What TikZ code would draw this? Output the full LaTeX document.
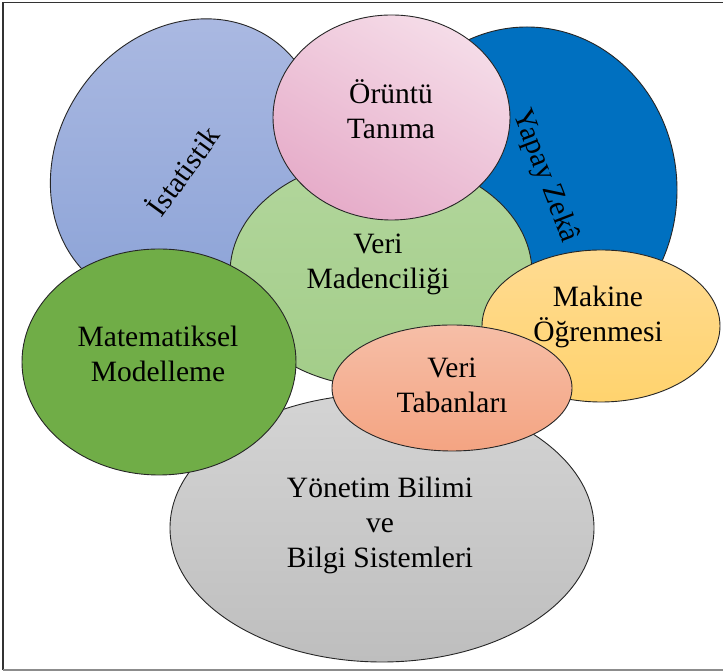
\documentclass[tikz,border=0pt]{standalone}
\usepackage{fontspec}
\setmainfont{Liberation Serif}
\usetikzlibrary{shapes.geometric}
\begin{document}
\begin{tikzpicture}[x=1pt,y=1pt,
  blob/.style={ellipse, draw=black!85, line width=0.9pt, inner sep=0pt, outer sep=0pt},
  lbl/.style={align=center, inner sep=0pt, font=\fontsize{29.5}{35}\selectfont, text=black}]
\useasboundingbox (0,0) rectangle (723,671);
\fill[white] (0,0) rectangle (723,671);
% frame
\coordinate (ftl) at (3,668.5);
\coordinate (fbl) at (3,1);
\coordinate (ftr) at (723,668.5);
\coordinate (fbr) at (723,1);
\draw[black!80, line width=1.2pt] (ftr) -- (ftl) -- (fbl);
\draw[black!45, line width=1.2pt] (fbl) -- (fbr);
% ellipses, back to front
\node[blob, rotate=55, minimum width=300pt, minimum height=256pt,
      top color={rgb,255:red,172;green,186;blue,226}, bottom color={rgb,255:red,140;green,163;blue,215}] (ist) at (186,509) {};
\node[blob, minimum width=300pt, minimum height=326pt, fill={rgb,255:red,0;green,112;blue,192}] (yz) at (527,481) {};
\node[blob, minimum width=302pt, minimum height=228pt,
      top color={rgb,255:red,178;green,214;blue,156}, bottom color={rgb,255:red,163;green,205;blue,137}] (vm) at (381,398) {};
\node[blob, minimum width=237pt, minimum height=205pt,
      top color={rgb,255:red,245;green,220;blue,232}, bottom color={rgb,255:red,230;green,172;blue,201}, shading angle=-30] (ot) at (391.5,553.5) {};
\node[blob, minimum width=424pt, minimum height=268pt,
      top color={rgb,255:red,212;green,212;blue,212}, bottom color={rgb,255:red,190;green,190;blue,190}] (yb) at (382,143) {};
\node[blob, minimum width=274pt, minimum height=226pt, fill={rgb,255:red,112;green,173;blue,71}] (mm) at (159,309) {};
\node[blob, minimum width=238pt, minimum height=152pt,
      top color={rgb,255:red,255;green,219;blue,146}, bottom color={rgb,255:red,255;green,211;blue,110}] (mo) at (601,345) {};
\node[blob, minimum width=240pt, minimum height=126pt,
      top color={rgb,255:red,246;green,190;blue,167}, bottom color={rgb,255:red,244;green,164;blue,130}] (vt) at (452,283) {};
% labels
\node[lbl, rotate=54] (tist) at (182,501) {İstatistik};
\node[lbl, rotate=-69] (tyz) at (545,495) {Yapay Zekâ};
\node[lbl] (tvm) at (378,406.5) {Veri\\Madenciliği};
\node[lbl] (tot) at (391,561.5) {Örüntü\\Tanıma};
\node[lbl] (tyb) at (380,146) {Yönetim Bilimi\\ve\\Bilgi Sistemleri};
\node[lbl] (tmm) at (158,317.5) {Matematiksel\\Modelleme};
\node[lbl] (tmo) at (598,354.5) {Makine\\Öğrenmesi};
\node[lbl] (tvt) at (452,285.5) {Veri\\Tabanları};
\end{tikzpicture}
\end{document}
